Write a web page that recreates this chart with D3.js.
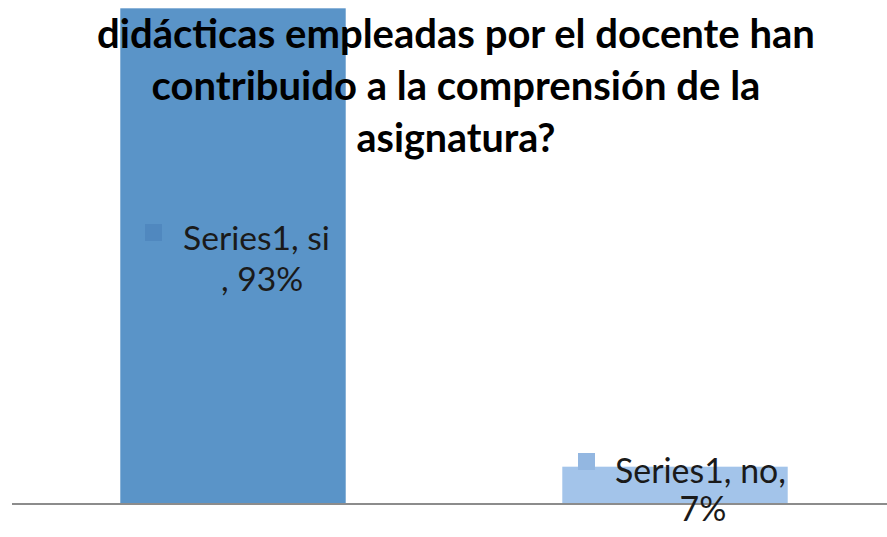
<!DOCTYPE html>
<html>
<head>
<meta charset="utf-8">
<script src="https://cdn.jsdelivr.net/npm/d3@7"></script>
<style>
  html, body { margin: 0; padding: 0; background: #fff; overflow: hidden; }
  svg { display: block; }
</style>
</head>
<body>
<svg id="chart" width="887" height="537"></svg>
<script>
// ---- data ----
const seriesName = "Series1";
const categories = ["si", "no"];
const values = [93, 7];
const titleLines = [
  "¿Según usted las prácticas",
  "didácticas empleadas por el docente han",
  "contribuido a la comprensión de la",
  "asignatura?"
];

// ---- styles ----
const barColors = ["#5A94C8", "#A3C4EA"];
const keyColors = ["#5088BF", "#93B7E1"];
const svg = d3.select("#chart");
const FONT = "Lato, 'Open Sans', sans-serif";

const x = d3.scaleBand().domain(categories).range([12, 896]).paddingInner(0.49).paddingOuter(0.245);
const y = d3.scaleLinear().domain([0, 100]).range([504, -29]);

// bars
svg.selectAll("rect.bar").data(categories).join("rect")
  .attr("class", "bar")
  .attr("x", d => x(d))
  .attr("width", x.bandwidth())
  .attr("y", (d, i) => y(values[i]))
  .attr("height", (d, i) => y(0) - y(values[i]))
  .attr("fill", (d, i) => barColors[i]);

// axis line
const axis = d3.axisBottom(x).tickSize(0).tickFormat("");
const ag = svg.append("g").attr("transform", `translate(0,${y(0)})`).call(axis);
ag.select(".domain").attr("stroke", "#8c8c8c").attr("stroke-width", 2.2).attr("d", "M12,0H887");

// helper to fit text width
function fit(sel, target) {
  const w = sel.node().getComputedTextLength();
  const fs = parseFloat(sel.attr("font-size"));
  sel.attr("font-size", fs * target / w);
}

// title
const titleCx = 456;
const titleBase = [-8, 48, 100, 152];
const titleWidths = [null, 718, 609, 199];
const titleTexts = titleLines.map((t, i) => svg.append("text")
    .attr("x", titleCx).attr("y", titleBase[i])
    .attr("text-anchor", "middle")
    .attr("font-family", FONT).attr("font-weight", "bold")
    .attr("font-size", 34).attr("fill", "#000")
    .text(t));
titleTexts.forEach((tx, i) => { if (titleWidths[i]) fit(tx, titleWidths[i]); });
titleTexts[0].attr("font-size", titleTexts[1].attr("font-size"));

// data labels
const labelDefs = [
  { key: [145, 224], l1: `${seriesName}, ${categories[0]}`, l1x: 183, l1y: 250, l1w: 147, l2: `, ${values[0]}%`, l2x: 262, l2y: 291 },
  { key: [578, 453], l1: `${seriesName}, ${categories[1]},`, l1x: 615, l1y: 483, l1w: 171, l2: `${values[1]}%`, l2x: 703, l2y: 521 }
];
labelDefs.forEach((d, i) => {
  svg.append("rect").attr("x", d.key[0]).attr("y", d.key[1]).attr("width", 17).attr("height", 17).attr("fill", keyColors[i]);
  const t1 = svg.append("text").attr("x", d.l1x).attr("y", d.l1y)
    .attr("font-family", FONT).attr("font-size", 26).attr("fill", "#1a1a1a").text(d.l1);
  fit(t1, d.l1w);
  const fs = t1.attr("font-size");
  svg.append("text").attr("x", d.l2x).attr("y", d.l2y).attr("text-anchor", "middle")
    .attr("font-family", FONT).attr("font-size", fs).attr("fill", "#1a1a1a").text(d.l2);
});
</script>
</body>
</html>
